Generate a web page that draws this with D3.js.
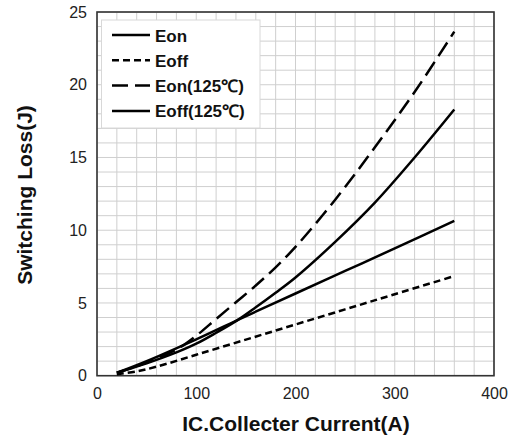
<!DOCTYPE html>
<html><head><meta charset="utf-8">
<script src="https://cdn.jsdelivr.net/npm/d3@7"></script>
<style>body{margin:0;background:#fff}svg{display:block;font-family:Arial,"Liberation Sans",sans-serif}</style>
</head><body><svg id="c" width="512" height="439"></svg>
<script>
const xTicks = [0,100,200,300,400];
const yTicks = [0,5,10,15,20,25];
const seriesNames = ["Eon","Eoff","Eon(125\u2103)","Eoff(125\u2103)"];
const eonX  = [20,50,80,100,120,142,160,180,200,240,280,320,360];
const eonY  = [0.2,0.85,1.6,2.2,2.95,3.84,4.7,5.7,6.75,9.2,11.9,15.0,18.3];
const eoffX = [20,40,60,100,150,200,250,300,360];
const eoffY = [0.1,0.3,0.62,1.44,2.48,3.52,4.56,5.6,6.85];
const eon125X = [20,50,80,100,120,140,160,180,200,240,280,320,360];
const eon125Y = [0.2,0.9,1.8,2.75,3.9,5.05,6.2,7.45,8.85,12.1,15.7,19.5,23.65];
const eoff125X = [20,50,100,142,200,250,300,360];
const eoff125Y = [0.2,1.0,2.5,3.84,5.65,7.2,8.75,10.65];

const svg = d3.select("#c");
const x = d3.scaleLinear().domain([0,400]).range([97,494]);
const y = d3.scaleLinear().domain([0,25]).range([375.7,12]);

// grid
const g = svg.append("g");
g.selectAll("line.v").data(d3.range(0,401,20)).join("line")
  .attr("x1",d=>x(d)).attr("x2",d=>x(d)).attr("y1",y(0)).attr("y2",y(25))
  .attr("stroke","#cfcfcf").attr("stroke-width",1);
g.selectAll("line.h").data(d3.range(0,26,1)).join("line")
  .attr("y1",d=>y(d)).attr("y2",d=>y(d)).attr("x1",x(0)).attr("x2",x(400))
  .attr("stroke","#cfcfcf").attr("stroke-width",1);

// axes tick labels
const xa = svg.append("g").attr("transform",`translate(0,${y(0)})`)
  .call(d3.axisBottom(x).tickValues(xTicks).tickSize(0).tickPadding(12));
xa.select(".domain").remove();
xa.selectAll("text").attr("font-size",16).attr("fill","#222").attr("font-family","Arial, 'Liberation Sans', sans-serif");
const ya = svg.append("g").attr("transform",`translate(${x(0)},0)`)
  .call(d3.axisLeft(y).tickValues(yTicks).tickSize(0).tickPadding(10));
ya.select(".domain").remove();
ya.selectAll("text").attr("font-size",16).attr("fill","#222").attr("font-family","Arial, 'Liberation Sans', sans-serif");

// frame
svg.append("rect").attr("x",x(0)).attr("y",y(25)).attr("width",x(400)-x(0)).attr("height",y(0)-y(25))
  .attr("fill","none").attr("stroke","#333").attr("stroke-width",1.6);

// lines
const line = d3.line().x(d=>x(d[0])).y(d=>y(d[1])).curve(d3.curveCatmullRom.alpha(0.5));
const series = [
  {xs:eonX, ys:eonY, dash:null},
  {xs:eoffX, ys:eoffY, dash:"7,4"},
  {xs:eon125X, ys:eon125Y, dash:"16,7"},
  {xs:eoff125X, ys:eoff125Y, dash:null}
];
series.forEach(s=>{
  svg.append("path").datum(s.xs.map((v,i)=>[v,s.ys[i]]))
    .attr("d",line).attr("fill","none").attr("stroke","#000").attr("stroke-width",2.5)
    .attr("stroke-dasharray",s.dash);
});

// legend
const lg = svg.append("g");
lg.append("rect").attr("x",101.5).attr("y",20).attr("width",158.5).attr("height",108)
  .attr("fill","#fff").attr("stroke","#d8d8d8").attr("stroke-width",1);
seriesNames.forEach((n,i)=>{
  const yy = 35 + i*25.3;
  lg.append("line").attr("x1",112).attr("x2",150).attr("y1",yy).attr("y2",yy)
    .attr("stroke","#000").attr("stroke-width",2.5).attr("stroke-dasharray",series[i].dash);
  lg.append("text").attr("x",155).attr("y",yy+6.5).attr("font-size",17).attr("font-weight","bold")
    .attr("fill","#111").text(n);
});

// axis titles
svg.append("text").attr("x",296).attr("y",431).attr("text-anchor","middle")
  .attr("font-size",21).attr("font-weight","bold").attr("fill","#111").text("IC.Collecter Current(A)");
svg.append("text").attr("transform","translate(32,195) rotate(-90)").attr("text-anchor","middle")
  .attr("font-size",21).attr("font-weight","bold").attr("fill","#111").text("Switching Loss(J)");
</script></body></html>
